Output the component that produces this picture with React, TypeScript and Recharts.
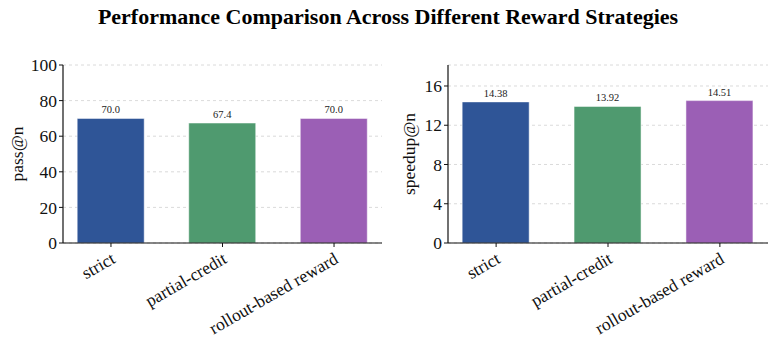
import React from 'react'
import { BarChart, Bar, XAxis, YAxis, CartesianGrid, Cell, LabelList, Label } from 'recharts'

const strategies = ['strict', 'partial-credit', 'rollout-based reward']
const passAtN = [70.0, 67.4, 70.0]
const speedupAtN = [14.38, 13.92, 14.51]
const passTicks = [0, 20, 40, 60, 80, 100]
const speedupTicks = [0, 4, 8, 12, 16]
const barColors = ['#2f5597', '#4f9a6f', '#9b5fb5']

const FONT = '"Liberation Serif", "DejaVu Serif", serif'

function CategoryTick({ x, y, payload }: any) {
  const ax = x - 1
  const ay = y + 2
  return (
    <text
      x={ax}
      y={ay}
      transform={`rotate(-30 ${ax} ${ay})`}
      textAnchor="end"
      dominantBaseline="hanging"
      fontFamily={FONT}
      fontSize={17.5}
      fill="#111"
    >
      {strategies[payload.value]}
    </text>
  )
}

function Panel({ values, ticks, yMax, yLabel, decimals, axisWidth, width, labelX }: {
  values: number[]; ticks: number[]; yMax: number; yLabel: string; decimals: number; axisWidth: number; width: number; labelX: number
}) {
  const data = values.map((v, i) => ({ idx: i, value: v }))
  return (
    <BarChart
      width={width}
      height={346}
      data={data}
      margin={{ top: 65, right: 8, bottom: 0, left: 13 }}
    >
      <CartesianGrid vertical={false} stroke="#d0d0d0" strokeDasharray="3 3" strokeWidth={0.8} />
      <XAxis
        dataKey="idx"
        type="number"
        domain={[-0.43, 2.43]}
        ticks={[0, 1, 2]}
        interval={0}
        tick={<CategoryTick />}
        axisLine={{ stroke: '#111', strokeWidth: 1.2 }}
        tickLine={{ stroke: '#111' }}
        tickSize={4}
        height={103}
        allowDataOverflow
      />
      <YAxis
        type="number"
        domain={[0, yMax]}
        ticks={ticks}
        interval={0}
        width={axisWidth}
        allowDataOverflow
        axisLine={{ stroke: '#111', strokeWidth: 1.2 }}
        tickLine={{ stroke: '#111' }}
        tickSize={4}
        tick={{ fontFamily: FONT, fontSize: 17.5, fill: '#111' }}
      >
        <Label
          content={() => (
            <text
              x={labelX}
              y={154}
              transform={`rotate(-90 ${labelX} 154)`}
              textAnchor="middle"
              dominantBaseline="central"
              fontFamily={FONT}
              fontSize={17.5}
              fill="#111"
            >
              {yLabel}
            </text>
          )}
        />
      </YAxis>
      <Bar dataKey="value" barSize={67} isAnimationActive={false} stroke="rgba(255,255,255,0.5)" strokeWidth={1}>
        {data.map((_, i) => (
          <Cell key={i} fill={barColors[i]} />
        ))}
        <LabelList
          dataKey="value"
          position="top"
          offset={5}
          formatter={(v: any) => Number(v).toFixed(decimals)}
          style={{ fontFamily: FONT, fontSize: 10.5, fill: '#222' }}
        />
      </Bar>
    </BarChart>
  )
}

export default function App() {
  return (
    <div style={{ position: 'absolute', left: 0, top: 0, width: 776, height: 346, background: '#fff' }}>
      <div
        style={{
          position: 'absolute',
          left: 0,
          top: 4,
          width: 776,
          textAlign: 'center',
          fontFamily: FONT,
          fontWeight: 'bold',
          fontSize: 22,
          color: '#000',
        }}
      >
        Performance Comparison Across Different Reward Strategies
      </div>
      <div style={{ position: 'absolute', left: 0, top: 0 }}>
        <Panel values={passAtN} ticks={passTicks} yMax={100} yLabel="pass@n" decimals={1} axisWidth={50} width={390} labelX={17} />
      </div>
      <div style={{ position: 'absolute', left: 390, top: 0 }}>
        <Panel values={speedupAtN} ticks={speedupTicks} yMax={18.14} yLabel="speedup@n" decimals={2} axisWidth={45} width={386} labelX={19} />
      </div>
    </div>
  )
}
